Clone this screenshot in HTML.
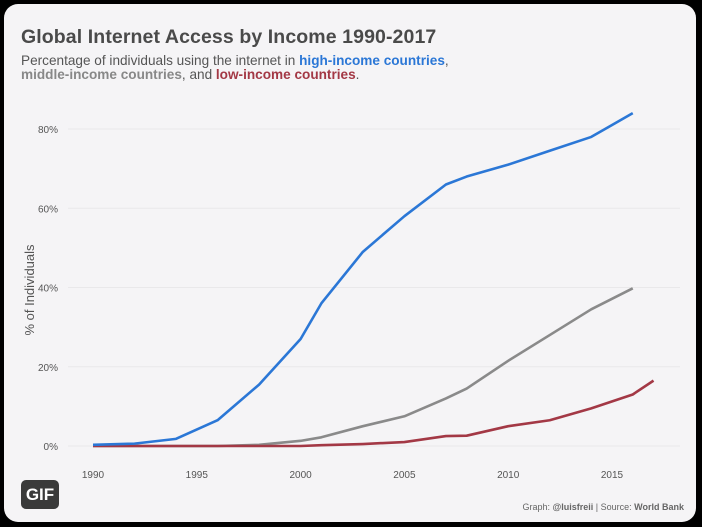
<!DOCTYPE html>
<html><head><meta charset="utf-8"><style>
html,body{margin:0;padding:0;background:#000;width:702px;height:527px;overflow:hidden;font-family:"Liberation Sans",sans-serif}
#card{position:absolute;left:4px;top:4px;width:692px;height:518px;background:#f5f4f6;border-radius:14px}
h1{position:absolute;left:21px;top:26px;margin:0;font-size:19.5px;font-weight:bold;color:#4a4a4a;letter-spacing:0.1px}
.sub{position:absolute;left:21px;top:54px;font-size:13.6px;line-height:13.5px;color:#555}
.hi{color:#2b77d6;font-weight:bold}.mi{color:#888;font-weight:bold}.lo{color:#a33845;font-weight:bold}
#gif{position:absolute;left:21px;top:480px;width:38px;height:29px;background:#3a3a3a;border-radius:5px;color:#fff;font-weight:bold;font-size:17px;text-align:center;line-height:29px}
#cred{position:absolute;right:18px;top:502px;font-size:9px;color:#666}
</style></head><body>
<div id="card"></div>
<h1>Global Internet Access by Income 1990-2017</h1>
<div class="sub">Percentage of individuals using the internet in <span class="hi">high-income countries</span>,<br><span class="mi">middle-income countries</span>, and <span class="lo">low-income countries</span>.</div>
<svg id="chart" width="702" height="527" style="position:absolute;left:0;top:0"></svg>
<div id="gif">GIF</div>
<div id="cred">Graph: <b>@luisfreii</b> | Source: <b>World Bank</b></div>
<script>
const yTicks=[0,20,40,60,80];
const xTicks=[1990,1995,2000,2005,2010,2015];
const highYears=[1990,1992,1994,1996,1998,2000,2001,2003,2005,2007,2008,2010,2012,2014,2016];
const highVals=[0.3,0.6,1.8,6.5,15.5,27,36,49,58,66,68,71,74.5,78,84];
const midYears=[1990,1996,1998,2000,2001,2003,2005,2007,2008,2010,2012,2014,2016];
const midVals=[0,0,0.3,1.3,2.2,5,7.5,12,14.5,21.5,28,34.5,39.8];
const lowYears=[1990,2000,2001,2003,2005,2007,2008,2010,2012,2014,2016,2017];
const lowVals=[0,0,0.2,0.5,1,2.5,2.6,5,6.5,9.5,13,16.5];
const svg=document.getElementById('chart');const NS='http://www.w3.org/2000/svg';
const x=y=>93+(y-1990)*20.76;
const yv=v=>446-v*3.9625;
function mk(t,a){const e=document.createElementNS(NS,t);for(const k in a)e.setAttribute(k,a[k]);svg.appendChild(e);return e;}
yTicks.forEach(t=>{
const l=mk('line',{x1:68,x2:680,y1:yv(t),y2:yv(t),stroke:'#e9e8ea','stroke-width':1});


const tx=mk('text',{x:58,y:yv(t)+4,'text-anchor':'end','font-size':10,fill:'#555','font-family':'Liberation Sans, sans-serif'});
tx.textContent=t+'%';


});
xTicks.forEach(t=>{
const tx=mk('text',{x:x(t),y:478,'text-anchor':'middle','font-size':10,fill:'#555','font-family':'Liberation Sans, sans-serif'});
tx.textContent=t;


});
const yt=mk('text',{x:0,y:0,transform:'translate(34,290) rotate(-90)','text-anchor':'middle','font-size':13,fill:'#555','font-family':'Liberation Sans, sans-serif'});
yt.textContent='% of Individuals';


function line(ys,vs,c,n){
const p=mk('polyline',{points:ys.map((y,i)=>x(y)+','+yv(vs[i])).join(' '),fill:'none',stroke:c,'stroke-width':2.6,'stroke-linejoin':'round'});


}
line(midYears,midVals,'#8a8a8a','middle-income-line');
line(lowYears,lowVals,'#a33845','low-income-line');
line(highYears,highVals,'#2b77d6','high-income-line');
</script>
</body></html>
